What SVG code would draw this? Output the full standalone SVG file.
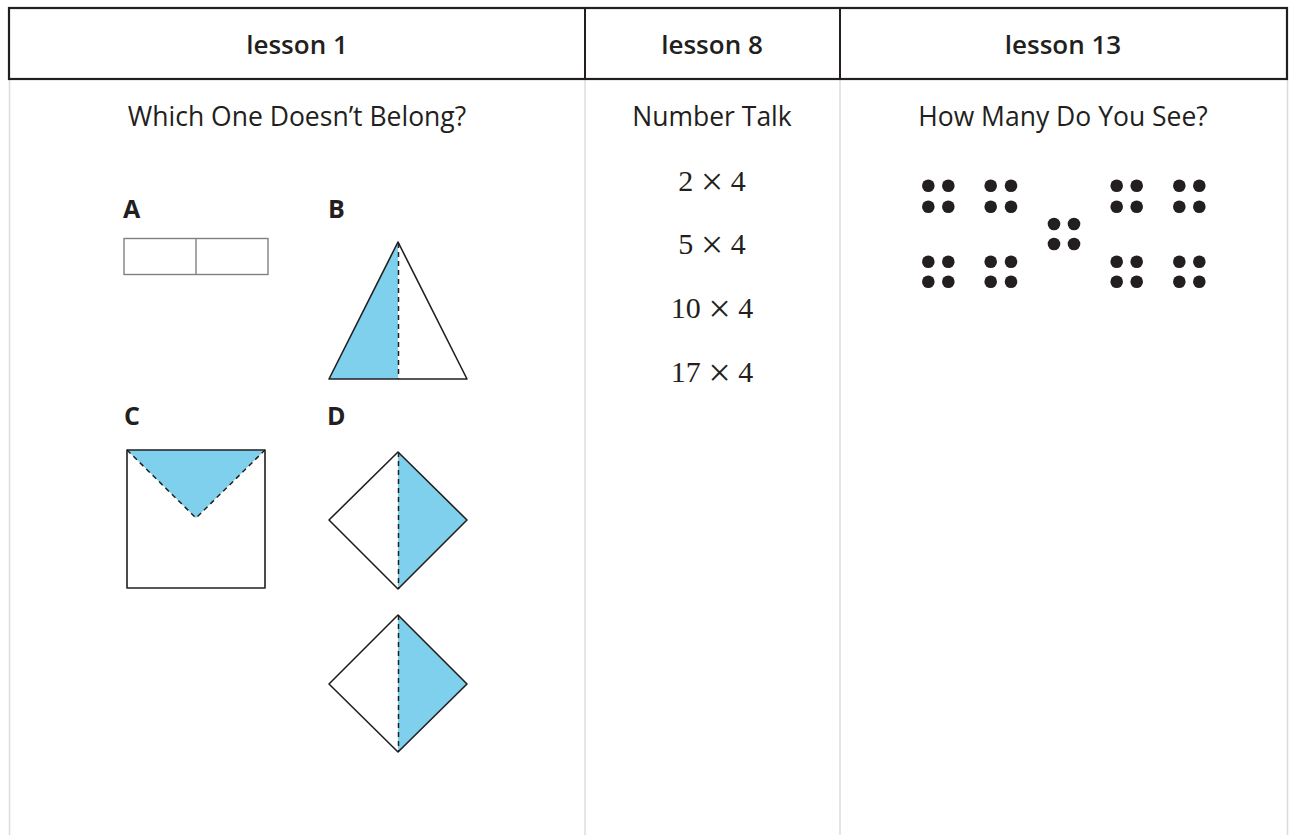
<svg xmlns="http://www.w3.org/2000/svg" width="1290" height="835" viewBox="0 0 1290 835">
<style>
.hdr{font-family:"Open Sans","Noto Sans",sans-serif;font-weight:600;font-size:26px;fill:#231f20;text-anchor:middle}
.sub{font-family:"Open Sans","Noto Sans",sans-serif;font-size:26.5px;fill:#231f20;text-anchor:middle}
.lbl{font-family:"Open Sans","Noto Sans",sans-serif;font-weight:700;font-size:25px;fill:#231f20}
.math{font-family:"Liberation Serif","Times New Roman",serif;font-size:30px;fill:#231f20;text-anchor:middle}
.x{font-size:40px}
.grid{stroke:#dcdcdc;stroke-width:1.5;fill:none}
.edge{stroke:#231f20;stroke-width:1.6;fill:none;stroke-linejoin:round}
.dash{stroke:#231f20;stroke-width:1.5;stroke-dasharray:5,4;fill:none}
.blue{fill:#7fd0ec;stroke:none}
.dot{fill:#231f20}
</style>
<rect width="1290" height="835" fill="#fff"/>
<g id="grid">
<line class="grid" x1="9.5" y1="79" x2="9.5" y2="835"/>
<line class="grid" x1="585" y1="79" x2="585" y2="835"/>
<line class="grid" x1="840" y1="79" x2="840" y2="835"/>
<line class="grid" x1="1287.5" y1="79" x2="1287.5" y2="835"/>
</g>
<g id="header">
<rect x="9" y="8" width="1278" height="71" fill="none" stroke="#231f20" stroke-width="2.2"/>
<line x1="585" y1="8" x2="585" y2="79" stroke="#231f20" stroke-width="2"/>
<line x1="840" y1="8" x2="840" y2="79" stroke="#231f20" stroke-width="2"/>
<text class="hdr" x="297" y="54">lesson 1</text>
<text class="hdr" x="712" y="54">lesson 8</text>
<text class="hdr" x="1063" y="54">lesson 13</text>
</g>
<g id="lesson1">
<text class="sub" x="297" y="126">Which One Doesn’t Belong?</text>
<g id="shapeA">
<text class="lbl" x="123" y="218">A</text>
<rect x="124" y="238.5" width="144" height="36" fill="none" stroke="#808080" stroke-width="1.4"/>
<line x1="196" y1="238.5" x2="196" y2="274.5" stroke="#808080" stroke-width="1.4"/>
</g>
<g id="shapeB">
<text class="lbl" x="328" y="218">B</text>
<polygon class="blue" points="398,242 329,379 398,379"/>
<polygon class="edge" points="398,242 329,379 467,379"/>
<line class="dash" x1="398.5" y1="243" x2="398.5" y2="379"/>
</g>
<g id="shapeC">
<text class="lbl" x="124" y="425">C</text>
<polygon class="blue" points="127,450 265,450 196,518"/>
<rect class="edge" x="127" y="450" width="138" height="138"/>
<polyline class="dash" points="127,450 196,518 265,450"/>
</g>
<g id="shapeD">
<text class="lbl" x="327" y="425">D</text>
<polygon class="blue" points="398,452 467,520 398,589"/>
<polygon class="edge" points="398,452 467,520 398,589 329,520"/>
<line class="dash" x1="398.5" y1="452" x2="398.5" y2="589"/>
<polygon class="blue" points="398,615 467,684 398,752"/>
<polygon class="edge" points="398,615 467,684 398,752 329,684"/>
<line class="dash" x1="398.5" y1="615" x2="398.5" y2="752"/>
</g>
</g>
<g id="lesson8">
<text class="sub" x="712" y="126">Number Talk</text>
<text class="math" x="712" y="191">2 <tspan class="x" dy="4">×</tspan><tspan dy="-4"> 4</tspan></text>
<text class="math" x="712" y="254">5 <tspan class="x" dy="4">×</tspan><tspan dy="-4"> 4</tspan></text>
<text class="math" x="712" y="318">10 <tspan class="x" dy="4">×</tspan><tspan dy="-4"> 4</tspan></text>
<text class="math" x="712" y="382">17 <tspan class="x" dy="4">×</tspan><tspan dy="-4"> 4</tspan></text>
</g>
<g id="lesson13">
<text class="sub" x="1063" y="126">How Many Do You See?</text>
<g id="dots">
<circle class="dot" cx="928.3" cy="185.7" r="6.3"/><circle class="dot" cx="948.3" cy="185.7" r="6.3"/>
<circle class="dot" cx="928.3" cy="206.7" r="6.3"/><circle class="dot" cx="948.3" cy="206.7" r="6.3"/>
<circle class="dot" cx="990.7" cy="185.7" r="6.3"/><circle class="dot" cx="1011" cy="185.7" r="6.3"/>
<circle class="dot" cx="990.7" cy="206.7" r="6.3"/><circle class="dot" cx="1011" cy="206.7" r="6.3"/>
<circle class="dot" cx="1054" cy="224" r="6.3"/><circle class="dot" cx="1074" cy="224" r="6.3"/>
<circle class="dot" cx="1054" cy="244" r="6.3"/><circle class="dot" cx="1074" cy="244" r="6.3"/>
<circle class="dot" cx="1116.7" cy="185.7" r="6.3"/><circle class="dot" cx="1136.7" cy="185.7" r="6.3"/>
<circle class="dot" cx="1116.7" cy="206.7" r="6.3"/><circle class="dot" cx="1136.7" cy="206.7" r="6.3"/>
<circle class="dot" cx="1179.3" cy="185.7" r="6.3"/><circle class="dot" cx="1199.3" cy="185.7" r="6.3"/>
<circle class="dot" cx="1179.3" cy="206.7" r="6.3"/><circle class="dot" cx="1199.3" cy="206.7" r="6.3"/>
<circle class="dot" cx="928.3" cy="261.7" r="6.3"/><circle class="dot" cx="948.3" cy="261.7" r="6.3"/>
<circle class="dot" cx="928.3" cy="281.7" r="6.3"/><circle class="dot" cx="948.3" cy="281.7" r="6.3"/>
<circle class="dot" cx="990.7" cy="261.7" r="6.3"/><circle class="dot" cx="1011" cy="261.7" r="6.3"/>
<circle class="dot" cx="990.7" cy="281.7" r="6.3"/><circle class="dot" cx="1011" cy="281.7" r="6.3"/>
<circle class="dot" cx="1116.7" cy="261.7" r="6.3"/><circle class="dot" cx="1136.7" cy="261.7" r="6.3"/>
<circle class="dot" cx="1116.7" cy="281.7" r="6.3"/><circle class="dot" cx="1136.7" cy="281.7" r="6.3"/>
<circle class="dot" cx="1179.3" cy="261.7" r="6.3"/><circle class="dot" cx="1199.3" cy="261.7" r="6.3"/>
<circle class="dot" cx="1179.3" cy="281.7" r="6.3"/><circle class="dot" cx="1199.3" cy="281.7" r="6.3"/>
</g>
</g>
</svg>
